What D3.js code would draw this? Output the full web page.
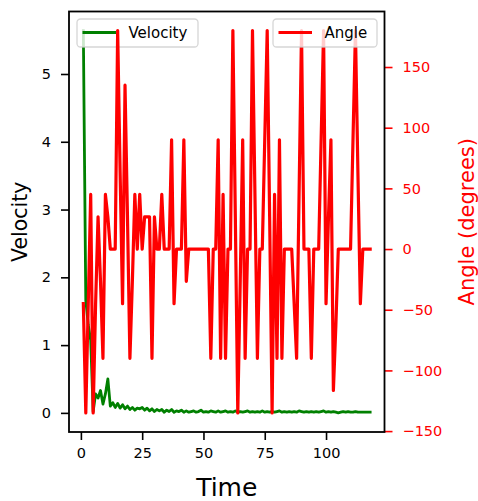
<!DOCTYPE html>
<html>
<head>
<meta charset="utf-8">
<script src="https://cdn.jsdelivr.net/npm/d3@7"></script>
<style>
  html, body { margin: 0; padding: 0; background: #fff; }
  svg { display: block; font-family: "DejaVu Sans", sans-serif; }
</style>
</head>
<body>
<svg id="chart" width="478" height="501"></svg>
<script>
// ---- data ----
const time = [1,2,3,4,5,6,7,8,9,10,11,12,13,14,15,16,17,18,19,20,
  21,22,23,24,25,26,27,28,29,30,31,32,33,34,35,36,37,38,39,40,
  41,42,43,44,45,46,47,48,49,50,51,52,53,54,55,56,57,58,59,60,
  61,62,63,64,65,66,67,68,69,70,71,72,73,74,75,76,77,78,79,80,
  81,82,83,84,85,86,87,88,89,90,91,92,93,94,95,96,97,98,99,100,
  101,102,103,104,105,106,107,108,109,110,111,112,113,114,115,116,117,118];

const velocity = [
  5.64, 1.66, 1.30, 1.07, 0.02, 0.28, 0.22, 0.33, 0.13, 0.28,
  0.50, 0.10, 0.15, 0.08, 0.14, 0.07, 0.12, 0.06, 0.10, 0.05,
  0.08, 0.04, 0.07, 0.06, 0.08, 0.04, 0.07, 0.03, 0.06, 0.02,
  0.05, 0.03, 0.05, 0.01, 0.04, 0.02, 0.05, 0.01, 0.03, 0.02,
  0.04, 0.01, 0.03, 0.01, 0.02, 0.03, 0.01, 0.02, 0.04, 0.01,
  0.02, 0.01, 0.03, 0.02, 0.01, 0.03, 0.01, 0.02, 0.03, 0.01,
  0.02, 0.01, 0.03, 0.01, 0.02, 0.01, 0.02, 0.03, 0.01, 0.02,
  0.01, 0.02, 0.01, 0.03, 0.01, 0.02, 0.01, 0.02, 0.01, 0.02,
  0.03, 0.01, 0.02, 0.01, 0.02, 0.01, 0.02, 0.01, 0.03, 0.02,
  0.01, 0.02, 0.01, 0.02, 0.01, 0.02, 0.01, 0.02, 0.03, 0.01,
  0.02, 0.01, 0.02, 0.01, 0.00, 0.01, 0.02, 0.01, 0.02, 0.01,
  0.01, 0.02, 0.01, 0.01, 0.01, 0.01, 0.01, 0.01];

const angle = [
  -45, -135, -45, 45, -135, -45, 26.57, -26.57, -90, 45,
  26.57, 0, 0, 0, 180, 63.43, -45, 135, 26.57, -90,
  -26.57, 45, 0, 45, 0, 26.57, 26.57, 26.57, -90, 26.57,
  0, 0, 45, 0, 0, 0, 90, -45, 0, 0,
  0, 90, -26.57, 0, 0, 0, 0, 0, 0, 0,
  0, 0, -90, 0, 0, 90, -90, 45, -90, 0,
  0, 180, 26.57, -135, -26.57, 90, -90, 0, 0, 180,
  45, -90, 0, 0, 90, 180, 26.57, -135, 45, -90,
  90, -90, 0, 0, 0, 0, -45, -90, 45, 180,
  0, 0, 0, -90, 0, 0, 0, 90, 180, -45,
  26.57, 90, -116.57, -63.43, 0, 0, 0, 0, 0, 0,
  90, 180, 63.43, -45, 0, 0, 0, 0];

const xTicks = [0, 25, 50, 75, 100];
const velTicks = [0, 1, 2, 3, 4, 5];
const angTicks = [-150, -100, -50, 0, 50, 100, 150];

// ---- layout ----
const L = 69, R = 384.5, T = 11.5, B = 432;
const svg = d3.select("#chart");
svg.append("rect").attr("width", 478).attr("height", 501).attr("fill", "#fff");

function padded(ext) {
  const r = ext[1] - ext[0];
  return [ext[0] - 0.05 * r, ext[1] + 0.05 * r];
}

const x = d3.scaleLinear().domain(padded(d3.extent(time))).range([L, R]);
const yV = d3.scaleLinear().domain(padded(d3.extent(velocity))).range([B, T]);
const yA = d3.scaleLinear().domain(padded(d3.extent(angle))).range([B, T]);

svg.append("clipPath").attr("id", "clip")
  .append("rect").attr("x", L).attr("y", T).attr("width", R - L).attr("height", B - T);

const fmt = d => (d < 0 ? "\u2212" + Math.abs(d) : String(d));

// Velocity line (ax1)
const vLine = d3.line().x((d, i) => x(time[i])).y(d => yV(d));
svg.append("path").datum(velocity)
  .attr("clip-path", "url(#clip)")
  .attr("d", vLine)
  .attr("fill", "none").attr("stroke", "green").attr("stroke-width", 2.8)
  .attr("stroke-linejoin", "round").attr("stroke-linecap", "square");

// Legend helper
function legend(x0, y0, w, h, color, label, lw) {
  const g = svg.append("g");
  g.append("rect").attr("x", x0).attr("y", y0).attr("width", w).attr("height", h)
    .attr("rx", 3.5).attr("ry", 3.5)
    .attr("fill", "rgba(255,255,255,0.8)").attr("stroke", "rgba(204,204,204,0.8)")
    .attr("stroke-width", 1.3);
  g.append("line").attr("x1", x0 + 5.5).attr("x2", x0 + 39).attr("y1", y0 + 13.5).attr("y2", y0 + 13.5)
    .attr("stroke", color).attr("stroke-width", lw);
  g.append("text").attr("x", x0 + 51.5).attr("y", y0 + 13.5).attr("dy", "0.36em")
    .attr("font-size", 15).attr("fill", "#000").text(label);
}

legend(77, 19, 121, 28, "green", "Velocity", 2.8);

// Angle line (ax2)
const aLine = d3.line().x((d, i) => x(time[i])).y(d => yA(d));
svg.append("path").datum(angle)
  .attr("clip-path", "url(#clip)")
  .attr("d", aLine)
  .attr("fill", "none").attr("stroke", "red").attr("stroke-width", 3.2)
  .attr("stroke-linejoin", "round").attr("stroke-linecap", "square");

legend(273, 19, 104, 28, "red", "Angle", 3.2);

// Axes
const axX = svg.append("g").attr("transform", `translate(0,${B})`)
  .call(d3.axisBottom(x).tickValues(xTicks).tickSize(8).tickPadding(8).tickFormat(fmt));
const axL = svg.append("g").attr("transform", `translate(${L},0)`)
  .call(d3.axisLeft(yV).tickValues(velTicks).tickSize(8).tickPadding(10).tickFormat(fmt));
const axR = svg.append("g").attr("transform", `translate(${R},0)`)
  .call(d3.axisRight(yA).tickValues(angTicks).tickSize(8).tickPadding(10).tickFormat(fmt));

[axX, axL, axR].forEach(a => {
  a.select(".domain").remove();
  a.selectAll("text").attr("font-size", 14.5).attr("font-family", "DejaVu Sans");
  a.selectAll("line").attr("stroke-width", 1.6);
});
axR.selectAll("line").attr("stroke", "red");
axR.selectAll("text").attr("fill", "red");
axX.selectAll("text").attr("fill", "#000");
axL.selectAll("text").attr("fill", "#000");

// Spines
svg.append("rect").attr("x", L).attr("y", T).attr("width", R - L).attr("height", B - T)
  .attr("fill", "none").attr("stroke", "#000").attr("stroke-width", 1.8);

// Axis labels
svg.append("text").attr("x", (L + R) / 2).attr("y", 496)
  .attr("text-anchor", "middle").attr("font-size", 25).text("Time");
svg.append("text").attr("transform", `translate(27,${(T + B) / 2}) rotate(-90)`)
  .attr("text-anchor", "middle").attr("font-size", 20.5).text("Velocity");
svg.append("text").attr("transform", `translate(473.5,${(T + B) / 2}) rotate(-90)`)
  .attr("text-anchor", "middle").attr("font-size", 21).attr("fill", "red").text("Angle (degrees)");
</script>
</body>
</html>
